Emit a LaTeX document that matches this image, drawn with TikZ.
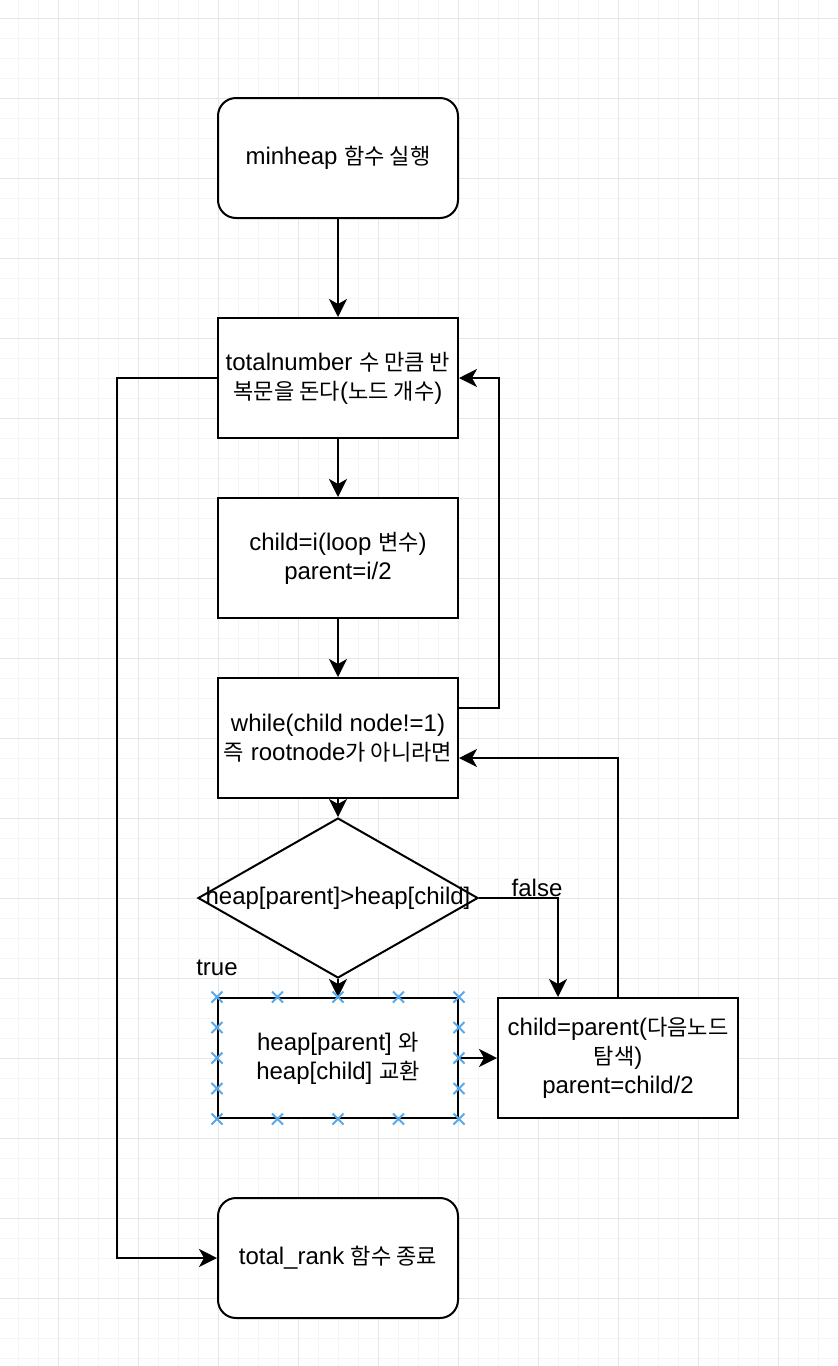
\documentclass[tikz,border=0pt]{standalone}
\usepackage{fontspec}
\setmainfont{Liberation Sans}
\newfontfamily\krfont{Noto Sans CJK KR}[Scale=0.92]
\newcommand\kr[1]{{\krfont #1}}
\usetikzlibrary{shapes.geometric,arrows.meta,calc}
\definecolor{gridmajor}{HTML}{E6E6E6}
\definecolor{gridminor}{HTML}{F5F5F5}
\definecolor{handleblue}{HTML}{55A8EC}
\tikzset{
  txt/.style={font=\fontsize{24}{29}\selectfont},
  box/.style={draw, line width=2pt, fill=white, minimum width=240pt, minimum height=120pt, align=center, inner sep=0pt, txt},
  rbox/.style={box, rounded corners=18pt},
  decision/.style={draw, line width=2pt, fill=white, shape=diamond, minimum width=280pt, minimum height=160pt, inner sep=0pt, txt},
  conn/.style={line width=2pt, -{Stealth[length=18pt,width=18pt,inset=5pt,fill=black]}},
  lbl/.style={txt, inner sep=0pt},
  handle/.style={draw=handleblue, line width=2pt},
  hmark/.style={insert path={++(-5.5pt,-5.5pt) -- ++(11pt,11pt) ++(-11pt,0) -- ++(11pt,-11pt)}},
}
\begin{document}
\begin{tikzpicture}[x=1pt,y=-1pt]
\useasboundingbox (0,0) rectangle (838,1366);
\fill[white] (0,0) rectangle (838,1366);
% grid
\foreach \gx in {18,38,...,838} \draw[gridminor, line width=1pt] (\gx,0) -- (\gx,1366);
\foreach \gy in {18,38,...,1366} \draw[gridminor, line width=1pt] (0,\gy) -- (838,\gy);
\foreach \gx in {58,138,...,838} \draw[gridmajor, line width=1pt] (\gx,0) -- (\gx,1366);
\foreach \gy in {18,98,...,1366} \draw[gridmajor, line width=1pt] (0,\gy) -- (838,\gy);

% nodes
\node[rbox] (start) at (338,158) {minheap \kr{함수 실행}};
\node[box] (loop) at (338,378) {totalnumber \kr{수 만큼 반}\\\kr{복문을 돈다}(\kr{노드 개수})};
\node[box] (init) at (338,558) {child=i(loop \kr{변수})\\parent=i/2};
\node[box] (while) at (338,738) {while(child node!=1)\\\kr{즉} rootnode\kr{가 아니라면}};
\node[decision] (cond) at (338,898) {\makebox[0pt]{heap[parent]>heap[child]}};
\node[box] (swap) at (338,1058) {heap[parent] \kr{와}\\heap[child] \kr{교환}};
\node[box] (next) at (618,1058) {child=parent(\kr{다음노드}\\\kr{탐색})\\parent=child/2};
\node[rbox] (end) at (338,1258) {total\_rank \kr{함수 종료}};

\node[lbl] (lfalse) at (537,888) {false};
\node[lbl] (ltrue) at (217,968) {true};

% connectors
\draw[conn] (start) -- (loop);
\draw[conn] (loop) -- (init);
\draw[conn] (init) -- (while);
\draw[conn] (while) -- (cond);
\draw[conn] (cond) -- (swap);
\draw[conn] (swap) -- (next);
\draw[conn] ($(while.east)+(0,30pt)$) -- ++(40pt,0) |- (loop.east);
\draw[conn] (cond.east) -| ($(next.north)+(-60pt,0)$);
\draw[conn] (next.north) |- ($(while.east)+(0,-20pt)$);
\draw[conn] (loop.west) -- ++(-100pt,0) |- (end.west);

% selection handles on swap box
\foreach \t in {0,0.25,0.5,0.75,1} {
  \draw[handle] ($(swap.north west)!\t!(swap.north east)$) [hmark];
  \draw[handle] ($(swap.south west)!\t!(swap.south east)$) [hmark];
}
\foreach \t in {0.25,0.5,0.75} {
  \draw[handle] ($(swap.north west)!\t!(swap.south west)$) [hmark];
  \draw[handle] ($(swap.north east)!\t!(swap.south east)$) [hmark];
}
\end{tikzpicture}
\end{document}
